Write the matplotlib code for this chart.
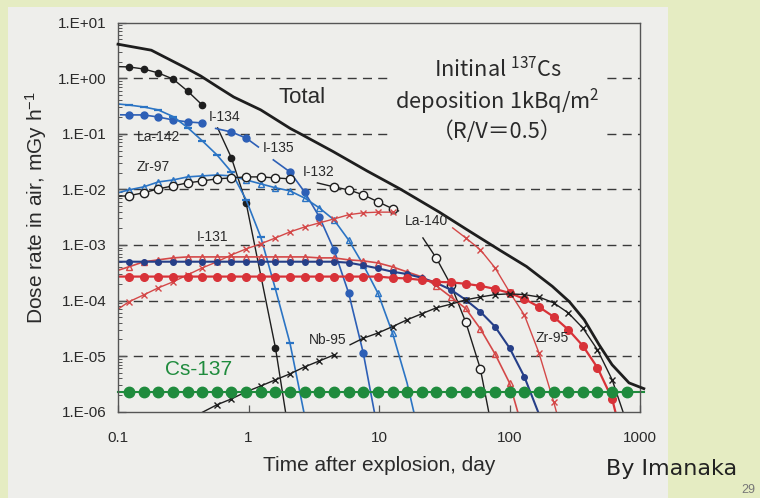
import matplotlib
matplotlib.use("Agg")
import matplotlib.pyplot as plt
from matplotlib.patches import Rectangle
from matplotlib.ticker import FixedLocator, NullLocator, LogLocator

plt.rcParams['font.family'] = ['Liberation Sans', 'DejaVu Sans']
plt.rcParams['mathtext.default'] = 'regular'

# ---------------- data ----------------
x_ticks = [0.1, 1, 10, 100, 1000]
x_ticklabels = ["0.1", "1", "10", "100", "1000"]
y_ticks = [1e1, 1e0, 1e-1, 1e-2, 1e-3, 1e-4, 1e-5, 1e-6]
y_ticklabels = ["1.E+01", "1.E+00", "1.E-01", "1.E-02", "1.E-03", "1.E-04", "1.E-05", "1.E-06"]
grid_lines = [1e0, 1e-1, 1e-2, 1e-3, 1e-4, 1e-5]

total_t = [0.1, 0.18, 0.32, 0.43, 0.58, 0.77, 1.24, 2.09, 2.5, 4.45, 8.1, 14.5, 29, 47, 84, 135,
           213, 288, 374, 486, 611, 824, 1070]
total_y = [4.1, 3.2, 1.6, 1.1, 0.70, 0.46, 0.27, 0.125, 0.10, 0.048, 0.0215, 0.0102, 0.0039, 0.0019,
           0.00081, 0.00041, 0.00018, 9.5e-5, 4.5e-5, 1.6e-5, 7.0e-6, 3.3e-6, 2.6e-6]

i134a_t = [0.1, 0.121, 0.157, 0.203, 0.264, 0.341, 0.442]
i134a_y = [1.62, 1.60, 1.47, 1.25, 0.97, 0.59, 0.33]
i134b_t = [0.58, 0.740, 0.959, 1.61, 1.95]
i134b_y = [0.128, 0.037, 0.0057, 1.4e-5, 8e-7]

i135a_t = [0.105, 0.121, 0.157, 0.203, 0.264, 0.341, 0.442]
i135a_y = [0.22, 0.219, 0.219, 0.201, 0.178, 0.164, 0.157]
i135b_t = [0.56, 0.740, 0.959, 1.19]
i135b_y = [0.125, 0.108, 0.084, 0.058]
i135c_t = [1.55, 2.08, 2.69, 3.49, 4.52, 5.85, 7.57, 9.3]
i135c_y = [0.034, 0.0206, 0.0090, 0.0032, 0.00082, 0.000137, 1.15e-5, 8.8e-7]

la142_t = [0.1, 0.121, 0.157, 0.203, 0.264, 0.341, 0.442, 0.572, 0.740, 0.959, 1.24, 1.61, 2.08, 2.69]
la142_y = [0.345, 0.33, 0.305, 0.27, 0.205, 0.13, 0.075, 0.042, 0.0206, 0.0065, 0.0014, 0.00016,
           1.7e-5, 8.5e-7]

zr97_t = [0.1, 0.121, 0.157, 0.203, 0.264, 0.341, 0.442, 0.572, 0.740, 0.959, 1.24, 1.61, 2.08,
          2.69, 3.49, 4.52, 5.85, 7.57, 9.80, 12.7, 16.4, 19.0]
zr97_y = [0.0087, 0.0098, 0.0111, 0.0136, 0.0148, 0.0168, 0.0175, 0.0182, 0.0175, 0.0148, 0.0126,
          0.0107, 0.0094, 0.0070, 0.00465, 0.00283, 0.00123, 0.00044, 0.000137, 2.6e-5, 3.3e-6, 7.5e-7]

i132a_t = [0.1, 0.121, 0.157, 0.203, 0.264, 0.341, 0.442, 0.572, 0.740, 0.959, 1.24, 1.61, 2.08]
i132a_y = [0.0075, 0.0077, 0.0087, 0.0102, 0.0116, 0.0131, 0.0142, 0.0155, 0.0161, 0.0168, 0.0168,
           0.0161, 0.0155]
i132b_t = [3.37, 4.52, 5.85, 7.57, 9.80, 12.7, 14.1]
i132b_y = [0.0131, 0.0111, 0.0098, 0.0080, 0.0060, 0.0045, 0.0041]
i132c_t = [21.7, 27.5, 35.6, 46.2, 59.8, 70]
i132c_y = [0.00134, 0.00058, 0.00019, 4.1e-5, 5.9e-6, 8.8e-7]

la140a_t = [0.1, 0.121, 0.157, 0.203, 0.264, 0.341, 0.442, 0.572, 0.740, 0.959, 1.24, 1.61, 2.08,
            2.69, 3.49, 4.52, 5.85, 7.57, 9.80, 12.7]
la140a_y = [7.0e-5, 9.5e-5, 0.000126, 0.000169, 0.000217, 0.00029, 0.000387, 0.000497, 0.000663,
            0.00085, 0.00105, 0.00134, 0.00172, 0.00211, 0.0025, 0.00294, 0.0035, 0.0038, 0.0039, 0.0039]
la140b_t = [36.7, 46.2, 59.8, 77.4, 100, 130, 168, 218, 232]
la140b_y = [0.00203, 0.00134, 0.00082, 0.00039, 0.000143, 5.5e-5, 1.15e-5, 1.5e-6, 8.8e-7]

i131_t = [0.1, 0.121, 0.157, 0.203, 0.264, 0.341, 0.442, 0.572, 0.740, 0.959, 1.24, 1.61, 2.08, 2.69,
          3.49, 4.52, 5.85, 7.57, 9.80, 12.7, 16.4, 21.3, 27.5, 35.6, 46.2, 59.8, 77.4, 100, 117]
i131_y = [0.00035, 0.000404, 0.000497, 0.00054, 0.000586, 0.00061, 0.00061, 0.00061, 0.00061,
          0.00061, 0.00061, 0.00061, 0.00061, 0.00061, 0.000586, 0.000586, 0.00054, 0.000518,
          0.000476, 0.000404, 0.000328, 0.000267, 0.000184, 0.000116, 7.2e-5, 3.1e-5, 1.1e-5,
          3.3e-6, 9e-7]

nb97_t = [0.1, 0.121, 0.157, 0.203, 0.264, 0.341, 0.442, 0.572, 0.740, 0.959, 1.24, 1.61, 2.08, 2.69,
          3.49, 4.52, 5.85, 7.57, 9.80, 12.7, 16.4, 21.3, 27.5, 35.6, 46.2, 59.8, 77.4, 100, 130, 169]
nb97_y = [0.0005, 0.0005, 0.0005, 0.0005, 0.0005, 0.0005, 0.0005, 0.0005, 0.0005, 0.0005, 0.0005,
          0.0005, 0.0005, 0.0005, 0.0005, 0.0005, 0.00048, 0.00043, 0.00038, 0.00033, 0.0003,
          0.000256, 0.000208, 0.000156, 0.000103, 6.3e-5, 3.4e-5, 1.41e-5, 4.25e-6, 8.8e-7]

zr95_t = [0.1, 0.121, 0.157, 0.203, 0.264, 0.341, 0.442, 0.572, 0.740, 0.959, 1.24, 1.61, 2.08, 2.69,
          3.49, 4.52, 5.85, 7.57, 9.80, 12.7, 16.4, 21.3, 27.5, 35.6, 46.2, 59.8, 77.4, 100, 130, 168,
          218, 282, 365, 472, 612, 656]
zr95_y = [0.00027, 0.00027, 0.00027, 0.00027, 0.00027, 0.00027, 0.00027, 0.00027, 0.00027, 0.00027,
          0.00027, 0.00027, 0.00027, 0.00027, 0.00027, 0.00027, 0.00027, 0.00027, 0.00027, 0.000256,
          0.00025, 0.000234, 0.000217, 0.000213, 0.0002, 0.000184, 0.000162, 0.000137, 0.000107,
          7.7e-5, 5.1e-5, 3.0e-5, 1.53e-5, 6.2e-6, 1.7e-6, 8.8e-7]

nb95a_t = [0.38, 0.572, 0.740, 0.959, 1.24, 1.61, 2.08, 2.69, 3.49, 4.52]
nb95a_y = [8.1e-7, 1.33e-6, 1.7e-6, 2.28e-6, 2.9e-6, 3.75e-6, 4.8e-6, 6.4e-6, 8.2e-6, 1.05e-5]
nb95b_t = [6.0, 7.57, 9.80, 12.7, 16.4, 21.3, 27.5, 35.6, 46.2, 59.8, 77.4, 100, 130, 168, 218, 282,
           365, 472, 612, 754]
nb95b_y = [1.6e-5, 2.1e-5, 2.6e-5, 3.4e-5, 4.5e-5, 5.8e-5, 7.4e-5, 8.6e-5, 0.000103, 0.000116,
           0.000128, 0.000132, 0.000128, 0.000116, 9.1e-5, 6.0e-5, 3.2e-5, 1.3e-5, 3.75e-6, 8.8e-7]

cs137_t = [0.1, 0.121, 0.157, 0.203, 0.264, 0.341, 0.442, 0.572, 0.740, 0.959, 1.24, 1.61, 2.08, 2.69,
           3.49, 4.52, 5.85, 7.57, 9.80, 12.7, 16.4, 21.3, 27.5, 35.6, 46.2, 59.8, 77.4, 100, 130, 168,
           218, 282, 365, 472, 612, 792, 1070]
cs137_y = [2.3e-6, 2.3e-6, 2.3e-6, 2.3e-6, 2.3e-6, 2.3e-6, 2.3e-6, 2.3e-6, 2.3e-6, 2.3e-6, 2.3e-6,
           2.3e-6, 2.3e-6, 2.3e-6, 2.3e-6, 2.3e-6, 2.3e-6, 2.3e-6, 2.3e-6, 2.3e-6, 2.3e-6, 2.3e-6,
           2.3e-6, 2.3e-6, 2.3e-6, 2.3e-6, 2.3e-6, 2.3e-6, 2.3e-6, 2.3e-6, 2.3e-6, 2.3e-6, 2.3e-6,
           2.3e-6, 2.3e-6, 2.3e-6, 2.3e-6]

# ---------------- style ----------------
BG_OUT = '#e5ecc2'
PANEL = '#eeeeeb'
BLACK = '#1e1e1e'
BLUE_L = '#2b74c4'
BLUE = '#2d5fb6'
NAVY = '#263f88'
RED = '#d83238'
RED_T = '#d44848'
GREEN = '#1f8b3d'
TXT = '#2a2a2a'

fig = plt.figure(figsize=(7.6, 4.98), dpi=100)
fig.patch.set_facecolor(BG_OUT)
fig.patches.append(Rectangle((8 / 760, 0), 660 / 760, 491 / 498, transform=fig.transFigure,
                             facecolor=PANEL, edgecolor='none', zorder=-5))
ax = fig.add_axes([118 / 760, 1 - 411.7 / 498, 522 / 760, 389 / 498])
ax.set_facecolor(PANEL)
ax.set_xscale('log')
ax.set_yscale('log')
ax.set_xlim(0.1, 1000)
ax.set_ylim(1e-6, 10)

for g in grid_lines:
    ax.axhline(g, color='#3a3a3a', lw=1.0, ls=(0, (6.5, 4.5)), zorder=0.5)


def seg(t, y, color, marker=None, ms=5, mfc=None, mew=1.0, lw=1.0, every=None, clip=True, z=2):
    ax.plot(t, y, color=color, lw=lw, marker=marker, ms=ms,
            mfc=color if mfc is None else mfc, mec=color, mew=mew,
            markevery=every, clip_on=clip, zorder=z)


seg(total_t, total_y, BLACK, lw=2.0, clip=False, z=3)

seg(i134a_t, i134a_y, BLACK, 'o', ms=4.5, every=slice(1, None))
seg(i134b_t, i134b_y, BLACK, 'o', ms=4.5, every=[1, 2, 3])

seg(i135a_t, i135a_y, BLUE, 'o', ms=5, every=slice(1, None), lw=1.2)
seg(i135b_t, i135b_y, BLUE, 'o', ms=5, every=[1, 2], lw=1.2)
seg(i135c_t, i135c_y, BLUE, 'o', ms=5, every=[1, 2, 3, 4, 5, 6], lw=1.2)

seg(la142_t, la142_y, BLUE_L, '_', ms=6, mew=1.6, every=slice(1, 13), lw=1.2)
seg(zr97_t, zr97_y, BLUE_L, '^', ms=5, mfc='none', every=slice(1, 20), lw=1.2)

seg(i132a_t, i132a_y, BLACK, 'o', ms=6, mfc='#f7f7f5', every=slice(1, None))
seg(i132b_t, i132b_y, BLACK, 'o', ms=6, mfc='#f7f7f5', every=[1, 2, 3, 4, 5])
seg(i132c_t, i132c_y, BLACK, 'o', ms=6, mfc='#f7f7f5', every=[1, 2, 3, 4])

seg(la140a_t, la140a_y, RED_T, 'x', ms=5, every=slice(1, None))
seg(la140b_t, la140b_y, RED_T, 'x', ms=5, every=[1, 2, 3, 4, 5, 6, 7])

seg(i131_t, i131_y, RED_T, '^', ms=5, mfc='none', every=slice(1, 28), lw=1.2)
seg(nb97_t, nb97_y, NAVY, 'o', ms=4, every=slice(1, 29), lw=1.5)
seg(zr95_t, zr95_y, RED, 'o', ms=5.5, every=slice(1, 35), lw=1.6)

seg(nb95a_t, nb95a_y, BLACK, 'x', ms=5, every=slice(1, None))
seg(nb95b_t, nb95b_y, BLACK, 'x', ms=5, every=slice(1, 19))

seg(cs137_t, cs137_y, GREEN, 'o', ms=7.5, every=slice(1, 36), lw=1.5, clip=False)

# ---------------- axes ----------------
ax.xaxis.set_major_locator(FixedLocator(x_ticks))
ax.set_xticklabels(x_ticklabels)
ax.xaxis.set_minor_locator(NullLocator())
ax.yaxis.set_major_locator(FixedLocator(y_ticks))
ax.set_yticklabels(y_ticklabels)
ax.yaxis.set_minor_locator(LogLocator(base=10, subs=(2, 3, 4, 5, 6, 7, 8, 9), numticks=30))
ax.tick_params(axis='y', which='major', direction='in', length=6, width=0.9, color='#555555',
               labelsize=11, labelcolor=TXT, pad=8)
ax.tick_params(axis='y', which='minor', direction='in', length=3, width=0.7, color='#555555')
ax.tick_params(axis='x', which='major', direction='in', length=5, width=0.9, color='#555555',
               labelsize=11, labelcolor=TXT, pad=14)
for s in ax.spines.values():
    s.set_color('#555555')
    s.set_linewidth(1.0)

ax.set_xlabel("Time after explosion, day", fontsize=15, color=TXT)
ax.xaxis.set_label_coords(0.5, -0.115)
ax.set_ylabel("Dose rate in air, mGy h$^{-1}$", fontsize=15, color=TXT)
ax.yaxis.set_label_coords(-0.133, 0.524)

# ---------------- annotations ----------------
lab = dict(fontsize=10, color=TXT, va='center', ha='center', zorder=4)
ax.text(0.495, 0.201, "I-134", **{**lab, 'ha': 'left'})
ax.text(0.206, 0.088, "La-142", **lab)
ax.text(0.185, 0.0254, "Zr-97", **lab)
ax.text(1.69, 0.0557, "I-135", **lab)
ax.text(3.42, 0.0206, "I-132", **lab)
ax.text(23.3, 0.00271, "La-140", **lab)
ax.text(0.531, 0.0014, "I-131", **lab)
ax.text(4.01, 1.96e-5, "Nb-95", **lab)
ax.text(213, 2.13e-5, "Zr-95", **lab)
ax.text(0.415, 5.7e-6, "Cs-137", fontsize=15, color=GREEN, ha='center', va='center', zorder=4)
ax.text(2.58, 0.442, "Total", fontsize=16, color=TXT, ha='center', va='center', zorder=4)
ax.text(81, 0.41, "Initinal $^{137}$Cs\ndeposition 1kBq/m$^{2}$\n（R/V＝0.5）",
        fontsize=15.7, color=TXT, ha='center', va='center', linespacing=1.2,
        family=['Noto Sans CJK JP', 'DejaVu Sans'], zorder=3,
        bbox=dict(facecolor=PANEL, edgecolor='none', pad=3))

fig.text(672 / 760, 1 - 469 / 498, "By Imanaka", fontsize=16, color='#222222', ha='center',
         va='center', family=['DejaVu Sans'])
fig.text(748 / 760, 1 - 490 / 498, "29", fontsize=9, color='#777777', ha='center', va='center')

fig.savefig('out.png', dpi=100, facecolor=fig.get_facecolor())
